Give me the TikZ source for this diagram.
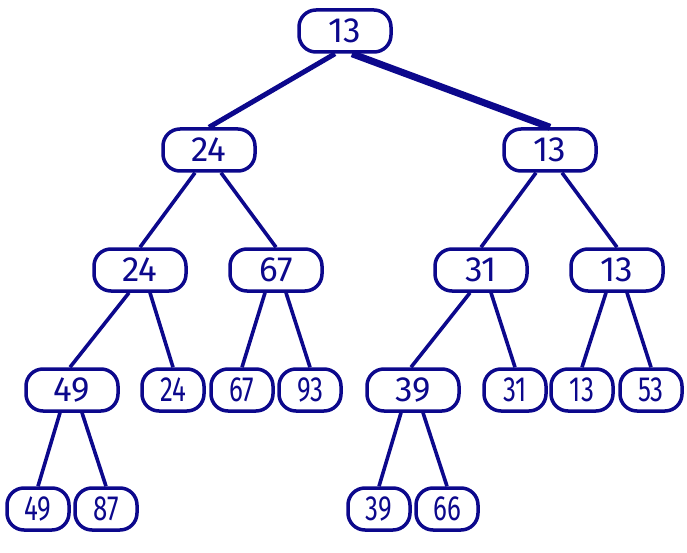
\documentclass[tikz,border=0pt]{standalone}
\usepackage{fontspec}
\usepackage{graphicx}
\setsansfont{Fira Sans}
\usepackage{xcolor}
\usetikzlibrary{positioning,calc}
\definecolor{treeblue}{RGB}{12,8,140}
\newcommand{\thin}[1]{\scalebox{0.74}[1]{#1}}
\begin{document}
\begin{tikzpicture}[x=1pt,y=-1pt,
    key/.style={draw=treeblue, text=treeblue, line width=3.5pt, rounded corners=17pt,
        minimum height=42pt, inner sep=0pt, font=\sffamily\fontsize{35}{35}\selectfont},
    big/.style={key, minimum width=92pt},
    leaf/.style={key, minimum width=62pt},
    edge/.style={draw=treeblue, line width=3.6pt}]
    \useasboundingbox (0,0) rectangle (687,553);
    % level 0 and 1
    \node[big] (R) at (345,31) {13};
    \node[big] (L) at (209,150) {24};
    \node[big] (Rt) at (550,150) {13};
    % level 2
    \node[big] (LL) at (140,270) {24};
    \node[big] (LR) at (276,270) {67};
    \node[big] (RL) at (481,270) {31};
    \node[big] (RR) at (617,270) {13};
    % level 3
    \node[big] (LLL) at (72,390) {49};
    \node[leaf] (LLR) at (173,390) {\thin{24}};
    \node[leaf] (LRL) at (242,390) {\thin{67}};
    \node[leaf] (LRR) at (310,390) {\thin{93}};
    \node[big] (RLL) at (413,390) {39};
    \node[leaf] (RLR) at (515,390) {\thin{31}};
    \node[leaf] (RRL) at (582,390) {\thin{13}};
    \node[leaf] (RRR) at (651,390) {\thin{53}};
    % level 4
    \node[leaf] (A) at (38,509) {\thin{49}};
    \node[leaf] (B) at (106,509) {\thin{87}};
    \node[leaf] (C) at (379,509) {\thin{39}};
    \node[leaf] (D) at (447,509) {\thin{66}};
    % edges
    \draw[edge, line width=5pt] ([xshift=-10pt]R.south) -- (L.north);
    \draw[edge, line width=7pt] ([xshift=7pt]R.south) -- (Rt.north);
    \draw[edge] ([xshift=-14pt]L.south) -- (LL.north);
    \draw[edge] ([xshift=12pt]L.south) -- (LR.north);
    \draw[edge] ([xshift=-14pt]Rt.south) -- (RL.north);
    \draw[edge] ([xshift=12pt]Rt.south) -- (RR.north);
    \draw[edge] ([xshift=-11pt]LL.south) -- ([xshift=-2pt]LLL.north);
    \draw[edge] ([xshift=10pt]LL.south) -- (LLR.north);
    \draw[edge] ([xshift=-11pt]LR.south) -- (LRL.north);
    \draw[edge] ([xshift=10pt]LR.south) -- (LRR.north);
    \draw[edge] ([xshift=-11pt]RL.south) -- ([xshift=-2pt]RLL.north);
    \draw[edge] ([xshift=10pt]RL.south) -- (RLR.north);
    \draw[edge] ([xshift=-11pt]RR.south) -- (RRL.north);
    \draw[edge] ([xshift=10pt]RR.south) -- (RRR.north);
    \draw[edge] ([xshift=-12pt]LLL.south) -- (A.north);
    \draw[edge] ([xshift=10pt]LLL.south) -- (B.north);
    \draw[edge] ([xshift=-12pt]RLL.south) -- (C.north);
    \draw[edge] ([xshift=10pt]RLL.south) -- (D.north);
\end{tikzpicture}
\end{document}
